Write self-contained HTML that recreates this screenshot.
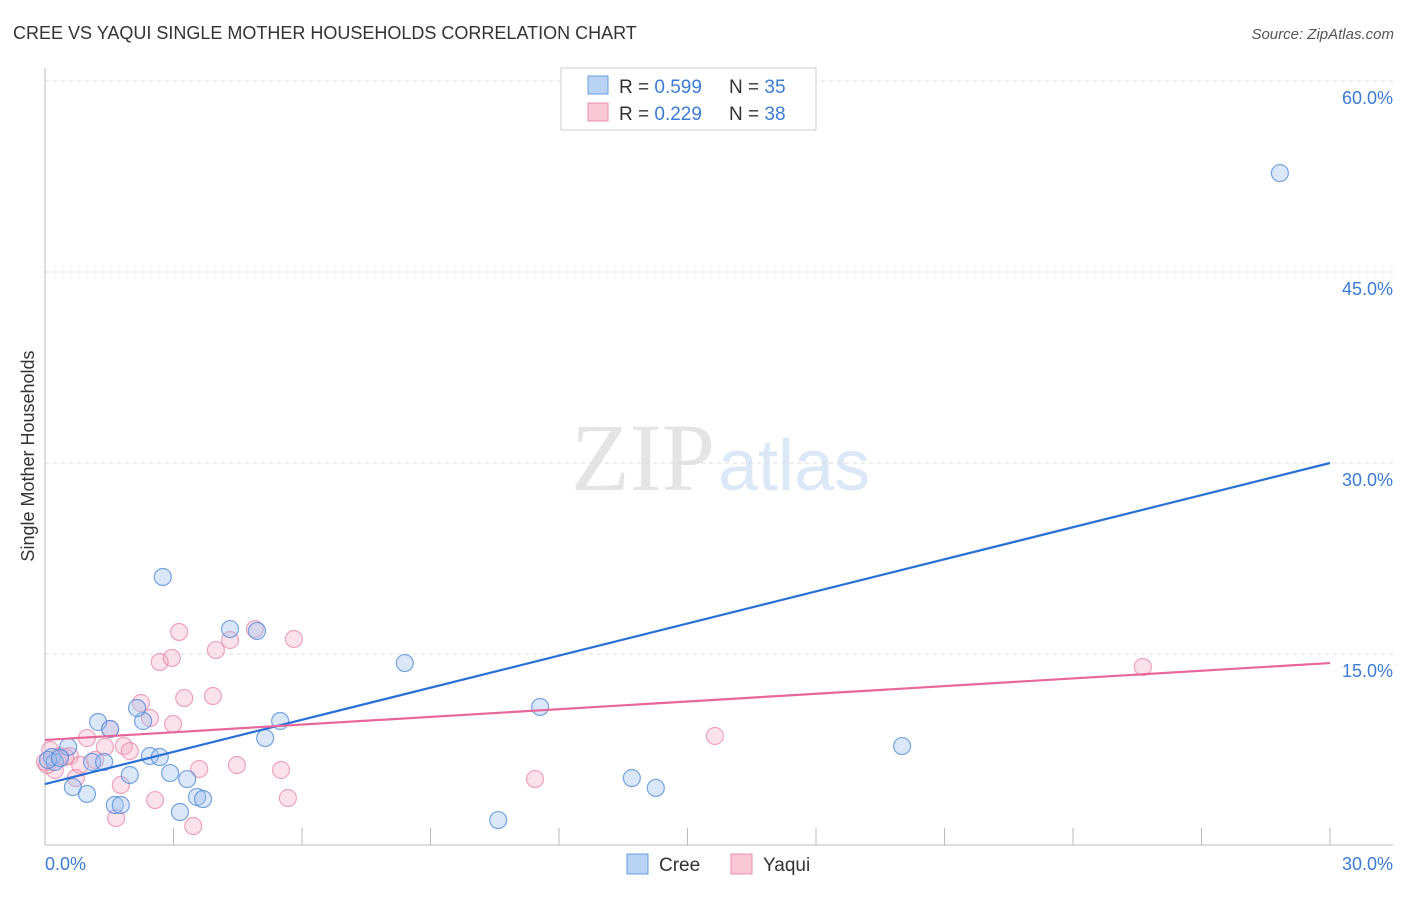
<!DOCTYPE html>
<html><head><meta charset="utf-8"><style>
body{margin:0;background:#fff;font-family:"Liberation Sans",sans-serif}
</style></head><body>
<svg id="c" width="1406" height="892" xmlns="http://www.w3.org/2000/svg" font-family="Liberation Sans, sans-serif">
<text x="13" y="39" font-size="18" fill="#333">CREE VS YAQUI SINGLE MOTHER HOUSEHOLDS CORRELATION CHART</text>
<text x="1394" y="39" font-size="15" fill="#555" font-style="italic" text-anchor="end">Source: ZipAtlas.com</text>
<text x="715" y="490" font-size="96" fill="#e4e4e4" text-anchor="end" font-family="Liberation Serif, serif">ZIP</text>
<text x="718" y="490" font-size="72" fill="#dce8f6">atlas</text>
<text transform="translate(34,456) rotate(-90)" font-size="18" fill="#333" text-anchor="middle">Single Mother Households</text>
<g id="grid"></g><g id="pts"></g><g id="lines"></g>
<rect x="561" y="68" width="255" height="62" fill="#fff" stroke="#ccc"/>
<rect x="588" y="76" width="20" height="18" fill="#b9d3f5" stroke="#6a9ee0"/>
<rect x="588" y="103" width="20" height="18" fill="#f9c7d6" stroke="#ec8fae"/>
<text x="619" y="93" font-size="19" fill="#333">R = <tspan fill="#3d7bd6">0.599</tspan></text>
<text x="729" y="93" font-size="19" fill="#333">N = <tspan fill="#3d7bd6">35</tspan></text>
<text x="619" y="120" font-size="19" fill="#333">R = <tspan fill="#3d7bd6">0.229</tspan></text>
<text x="729" y="120" font-size="19" fill="#333">N = <tspan fill="#3d7bd6">38</tspan></text>
<rect x="627" y="854" width="21" height="20" fill="#b9d3f5" stroke="#6a9ee0"/>
<text x="659" y="871" font-size="19" fill="#333">Cree</text>
<rect x="731" y="854" width="21" height="20" fill="#f9c7d6" stroke="#ec8fae"/>
<text x="763" y="871" font-size="19" fill="#333">Yaqui</text>
</svg>
<script>
const creeX=[28.83,2.75,4.32,4.95,8.40,11.56,5.49,5.14,1.24,2.29,1.52,2.15,20.01,2.45,2.68,0.54,0.16,0.23,1.10,1.38,1.98,2.92,3.32,0.65,0.98,13.70,14.26,3.55,3.69,1.63,1.77,3.15,10.58,0.07,0.35];
const creeY=[52.77,21.05,16.96,16.81,14.29,10.84,9.74,8.40,9.66,9.74,9.11,10.76,7.77,6.99,6.91,7.70,6.91,6.52,6.52,6.52,5.50,5.65,5.18,4.55,4.01,5.26,4.48,3.77,3.61,3.14,3.14,2.59,1.96,6.68,6.83];
const yaquiX=[25.63,4.90,3.13,4.32,5.81,2.68,2.96,3.99,3.92,3.25,2.24,2.45,2.99,1.52,15.64,0.98,1.84,1.98,1.40,0.58,0.12,0.35,0.82,0.05,4.48,3.60,5.51,11.44,1.77,0.72,2.57,5.67,1.66,3.46,0.47,1.17,0.0,0.23];
const yaquiY=[13.98,16.96,16.73,16.10,16.18,14.37,14.69,15.31,11.70,11.54,11.15,9.97,9.50,9.11,8.56,8.40,7.77,7.38,7.70,6.99,7.46,6.99,6.28,6.28,6.28,5.97,5.89,5.18,4.71,5.26,3.53,3.69,2.12,1.49,6.91,6.68,6.52,5.89];
const creeTrend=[4.79,30.0];
const yaquiTrend=[8.25,14.29];
const yTicks=[15,30,45,60];
const yTickLabels=["15.0%","30.0%","45.0%","60.0%"];
const xTicks=[0,3,6,9,12,15,18,21,24,27,30];

const NS="http://www.w3.org/2000/svg";
const sx=v=>45+v/30*1285, sy=v=>845-v/15*191;
function mk(t,a,p){const e=document.createElementNS(NS,t);for(const k in a)e.setAttribute(k,a[k]);p.appendChild(e);return e;}
const g=document.getElementById('grid');
yTicks.forEach((t,i)=>{
  const l=mk('line',{x1:45,x2:1393,y1:sy(t),y2:sy(t),stroke:'#ddd','stroke-dasharray':'4,4'},g);
  
  
  const tx=mk('text',{x:1393,y:sy(t)+23,'font-size':18,fill:'#3d7bd6','text-anchor':'end'},g);
  tx.textContent=yTickLabels[i];
  
  
});
let a=mk('line',{x1:45,x2:45,y1:68,y2:845,stroke:'#bbb'},g);


a=mk('line',{x1:45,x2:1393,y1:845,y2:845,stroke:'#bbb'},g);


xTicks.slice(1).forEach(t=>{
  const l=mk('line',{x1:sx(t),x2:sx(t),y1:828,y2:845,stroke:'#bbb'},g);
  
  
});
let t0=mk('text',{x:45,y:870,'font-size':18,fill:'#3d7bd6'},g);t0.textContent=xTicks[0].toFixed(1)+"%";


let t1=mk('text',{x:1393,y:870,'font-size':18,fill:'#3d7bd6','text-anchor':'end'},g);t1.textContent=xTicks[xTicks.length-1].toFixed(1)+"%";


const p=document.getElementById('pts');
yaquiX.forEach((x,i)=>{
  const c=mk('circle',{cx:sx(x),cy:sy(yaquiY[i]),r:8.5,fill:'rgba(244,170,195,0.35)',stroke:'rgba(230,130,165,0.7)','stroke-width':1.2},p);
  
  
});
creeX.forEach((x,i)=>{
  const c=mk('circle',{cx:sx(x),cy:sy(creeY[i]),r:8.5,fill:'rgba(160,195,240,0.4)',stroke:'rgba(80,135,215,0.75)','stroke-width':1.2},p);
  
  
});
const L=document.getElementById('lines');
let l1=mk('line',{x1:sx(0),y1:sy(creeTrend[0]),x2:sx(30),y2:sy(creeTrend[1]),stroke:'#2a6fd6','stroke-width':2.2},L);


let l2=mk('line',{x1:sx(0),y1:sy(yaquiTrend[0]),x2:sx(30),y2:sy(yaquiTrend[1]),stroke:'#e8679a','stroke-width':2.2},L);


</script>
</body></html>
